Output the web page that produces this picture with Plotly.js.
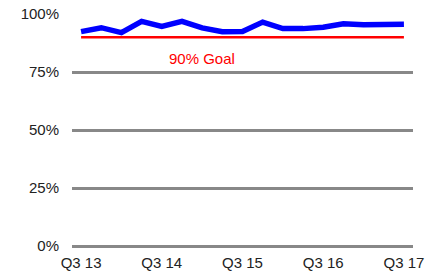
<!DOCTYPE html>
<html>
<head>
<meta charset="utf-8">
<script src="https://cdn.plot.ly/plotly-3.0.1.min.js"></script>
<style>html,body{margin:0;padding:0;background:#fff;}#chart{width:438px;height:275px;}</style>
</head>
<body>
<div id="chart"></div>
<script>
var quarters = ["Q3 13","Q4 13","Q1 14","Q2 14","Q3 14","Q4 14","Q1 15","Q2 15","Q3 15","Q4 15","Q1 16","Q2 16","Q3 16","Q4 16","Q1 17","Q2 17","Q3 17"];
var rate = [92.4, 94.1, 92.0, 96.8, 94.7, 96.8, 94.0, 92.4, 92.5, 96.5, 93.7, 93.7, 94.3, 95.8, 95.4, 95.5, 95.6];
var goal = [90, 90, 90, 90, 90, 90, 90, 90, 90, 90, 90, 90, 90, 90, 90, 90, 90];
var xTicks = ["Q3 13","Q3 14","Q3 15","Q3 16","Q3 17"];
var yTicks = [0, 25, 50, 75, 100];
var yTickText = ["0%","25%","50%","75%","100%"];
var goalLabel = "90% Goal";

var data = [
  {x: quarters, y: goal, type: 'scatter', mode: 'lines', line: {color: '#ff0000', width: 2.5}, hoverinfo: 'skip'},
  {x: quarters, y: rate, type: 'scatter', mode: 'lines', line: {color: '#0000ff', width: 5.5}, hoverinfo: 'skip'}
];
var layout = {
  width: 438, height: 275,
  margin: {l: 72, r: 25, t: 14, b: 29},
  paper_bgcolor: '#fff', plot_bgcolor: '#fff',
  showlegend: false,
  font: {family: 'Liberation Sans, Arial, sans-serif', size: 15, color: '#222'},
  xaxis: {
    type: 'category', range: [-0.45, 16.45],
    tickmode: 'array', tickvals: xTicks, ticktext: xTicks,
    showgrid: false, zeroline: false, showline: false, ticks: '',
    ticklabelstandoff: 6,
    tickfont: {size: 15, color: '#222'}
  },
  yaxis: {
    range: [0, 100], tickmode: 'array', tickvals: yTicks, ticktext: yTickText,
    showgrid: true, gridcolor: '#888888', gridwidth: 3,
    zeroline: true, zerolinecolor: '#888888', zerolinewidth: 3, showline: false,
    ticks: '', ticklabelstandoff: 12,
    tickfont: {size: 15, color: '#222'}
  },
  annotations: [{
    x: quarters[6], y: 81, xref: 'x', yref: 'y', text: goalLabel, showarrow: false,
    font: {size: 15, color: '#ff0000'}
  }]
};
Plotly.newPlot('chart', data, layout, {staticPlot: true, displayModeBar: false});
</script>
</body>
</html>
